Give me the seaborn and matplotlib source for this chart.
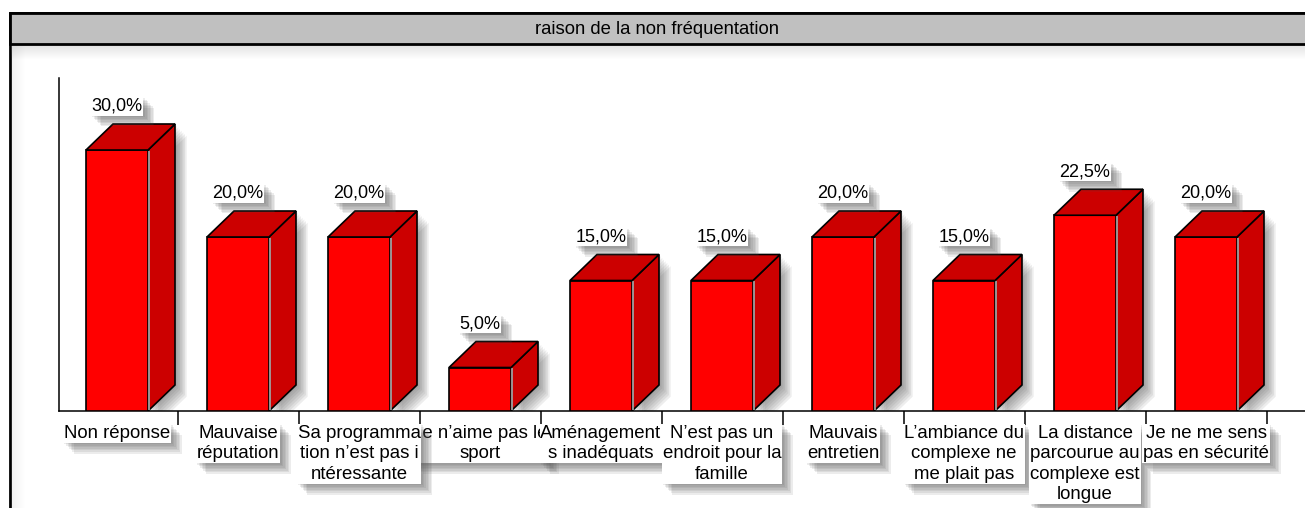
import numpy as np
import pandas as pd
import matplotlib
matplotlib.use("Agg")
import matplotlib.pyplot as plt
import matplotlib.patheffects as pe
from matplotlib.patches import Polygon, Rectangle
import seaborn as sns

# data
categories = [
    "Non réponse",
    "Mauvaise\nréputation",
    "Sa programma\ntion n’est pas i\nntéressante",
    "Je n’aime pas le\nsport",
    "Aménagement\ns inadéquats",
    "N’est pas un\nendroit pour la\nfamille",
    "Mauvais\nentretien",
    "L’ambiance du\ncomplexe ne\nme plait pas",
    "La distance\nparcourue au\ncomplexe est\nlongue",
    "Je ne me sens\npas en sécurité",
]
values = [30.0, 20.0, 20.0, 5.0, 15.0, 15.0, 20.0, 15.0, 22.5, 20.0]
title = "raison de la non fréquentation"

df = pd.DataFrame({"raison": categories, "pct": values})

sns.set_style("white")
plt.rcParams['font.family'] = ['Liberation Sans', 'DejaVu Sans']
plt.rcParams['text.color'] = 'black'


def soft_shadow(n=6, step=0.9, alpha=0.07, color="#555555"):
    # stack of offset shadows, gives a blurred look
    fx = [pe.SimplePatchShadow(offset=(step * k, -step * k), shadow_rgbFace=color, alpha=alpha)
          for k in range(n, 0, -1)]
    return fx + [pe.Normal()]


W, H = 1305, 508
fig = plt.figure(figsize=(W / 100, H / 100), dpi=100)

# outer frame + grey title band (kept behind the axes)
fig.patches.append(Rectangle((10 / W, -0.1), 1.1, (508 - 13) / H + 0.1, transform=fig.transFigure,
                             facecolor="white", edgecolor="black", lw=2, zorder=-3))
for k in range(14):
    a = 0.22 * (1 - k / 14)
    fig.patches.append(Rectangle(((11 + k) / W, 0), 1 / W, (508 - 45) / H, transform=fig.transFigure,
                                 facecolor="grey", edgecolor="none", alpha=a * 0.5, zorder=-2))
    fig.patches.append(Rectangle((11 / W, (508 - 46 - k) / H), 1.1, 1 / H, transform=fig.transFigure,
                                 facecolor="grey", edgecolor="none", alpha=a, zorder=-2))
fig.patches.append(Rectangle((10 / W, (508 - 44) / H), 1.1, 31 / H, transform=fig.transFigure,
                             facecolor="#C0C0C0", edgecolor="black", lw=2, zorder=-1))
fig.text(657 / W, (508 - 30) / H, title, ha="center", va="center", fontsize=13.3,
         color="black", zorder=2)

# plot area
ax = fig.add_axes([59 / W, 97 / H, (W - 59) / W, 333 / H])
ax.patch.set_alpha(0)

bar_w = 62 / 121
dx = 27 / 121
ymax = 333 / 8.7
dy = 26 / 8.7

sns.barplot(data=df, x="raison", y="pct", color="#FF0000", saturation=1, width=bar_w,
            edgecolor="black", linewidth=1.2, ax=ax, zorder=3)

for i, v in enumerate(values):
    x0 = i - bar_w / 2
    x1 = i + bar_w / 2
    side = Polygon([(x1, 0), (x1 + dx, dy), (x1 + dx, v + dy), (x1, v)], closed=True,
                   facecolor="#CC0000", edgecolor="black", lw=1.2, zorder=2.5)
    side.set_path_effects(soft_shadow(n=7, step=1.2, alpha=0.1))
    ax.add_patch(side)
    # light edge between front and side faces
    ax.plot([x1 + 0.012, x1 + 0.012], [0.15, v - 0.1], color="#A0A0A0", lw=1.3, zorder=3.2,
            solid_capstyle="butt")
    top = Polygon([(x0, v), (x1, v), (x1 + dx, v + dy), (x0 + dx, v + dy)], closed=True,
                  facecolor="#CC0000", edgecolor="black", lw=1.2, zorder=3.5)
    ax.add_patch(top)

    lab = ax.annotate(f"{v:.1f}%".replace(".", ","), xy=(i, v + dy), xytext=(0, 9.5),
                      textcoords="offset points", ha="center", va="baseline", fontsize=13,
                      family=["Liberation Sans Narrow", "Liberation Sans"], color="black",
                      zorder=5, bbox=dict(boxstyle="square,pad=0.05", fc="white", ec="none"))
    lab.get_bbox_patch().set_path_effects(soft_shadow(n=7, step=1.1, alpha=0.11))

    # category labels, the one at index 3 sits under its neighbours
    z = 4 if i == 3 else 6
    tl = ax.annotate(categories[i], xy=(i, 0), xytext=(0, -10), textcoords="offset points",
                     ha="center", va="top", fontsize=13.4, linespacing=1.27, zorder=z,
                     color="black", annotation_clip=False,
                     bbox=dict(boxstyle="square,pad=0.05", fc="white", ec="none"))
    tl.get_bbox_patch().set_path_effects(soft_shadow(n=7, step=1.1, alpha=0.11))

ax.set_xlim(-0.5 + 2.5 / 121, -0.5 + (W - 56.5) / 121)
ax.set_ylim(0, ymax)
ax.set_xticks(np.arange(len(categories)) + 0.5)
ax.set_xticklabels([])
ax.set_yticks([])
ax.tick_params(axis="x", direction="out", length=10, width=1.1, color="black", bottom=True)
ax.set_xlabel("")
ax.set_ylabel("")
for s in ["top", "right"]:
    ax.spines[s].set_visible(False)
for s in ["left", "bottom"]:
    ax.spines[s].set_color("black")
    ax.spines[s].set_linewidth(1.1)

fig.savefig("out.png", dpi=100)
